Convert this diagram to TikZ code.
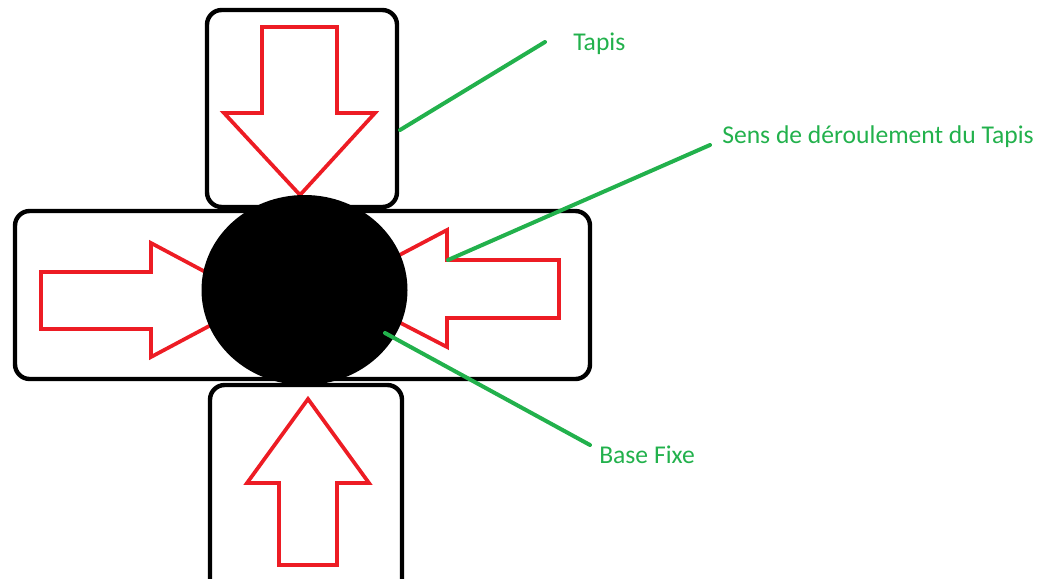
\documentclass[tikz,border=0pt]{standalone}
\usepackage{fontspec}
\setmainfont{Carlito}
\definecolor{paintred}{RGB}{237,28,36}
\definecolor{paintgreen}{RGB}{34,177,76}

\begin{document}
\begin{tikzpicture}[x=0.75pt,y=-0.75pt,
  tapis/.style={draw=black, line width=3.3pt, rounded corners=11pt},
  fleche/.style={draw=paintred, line width=2.8pt},
  renvoi/.style={draw=paintgreen, line width=3pt, line cap=round},
  lbl/.style={text=paintgreen, font=\fontsize{19.2}{23}\selectfont, inner sep=0pt, anchor=base west}]
  \useasboundingbox (0,0) rectangle (1041,578);
  % les trois tapis
  \draw[tapis] (207,10) rectangle (397,207);
  \draw[tapis] (15,211) rectangle (590,379);
  \draw[tapis] (210,385) rectangle (402,610);
  % sens de deroulement
  \draw[fleche] (262,27) -- (337,27) -- (337,113) -- (375,113) -- (300,195) -- (224,113) -- (262,113) -- cycle;
  \draw[fleche] (41,272) -- (151,272) -- (151,243) -- (258,300) -- (151,357) -- (151,329) -- (41,329) -- cycle;
  \draw[fleche] (559,260) -- (447,260) -- (447,230) -- (335,289) -- (447,347) -- (447,318) -- (559,318) -- cycle;
  \draw[fleche] (279,565) -- (279,483) -- (247,483) -- (308,399) -- (369,483) -- (337,483) -- (337,565) -- cycle;
  % base fixe
  \fill (304.5,290) ellipse (103 and 95);
  % renvois
  \coordinate (t1) at (400,130);  \coordinate (t2) at (545,42);
  \coordinate (s1) at (448,260);  \coordinate (s2) at (710,145);
  \coordinate (b1) at (385,333);  \coordinate (b2) at (590,445);
  \draw[renvoi] (t1) -- (t2);
  \draw[renvoi] (s1) -- (s2);
  \draw[renvoi] (b1) -- (b2);
  \node[lbl] (tapisLbl) at (573,50) {Tapis};
  \node[lbl] (sensLbl) at (722,143) {Sens de déroulement du Tapis};
  \node[lbl] (baseLbl) at (599,463) {Base Fixe};
\end{tikzpicture}
\end{document}
